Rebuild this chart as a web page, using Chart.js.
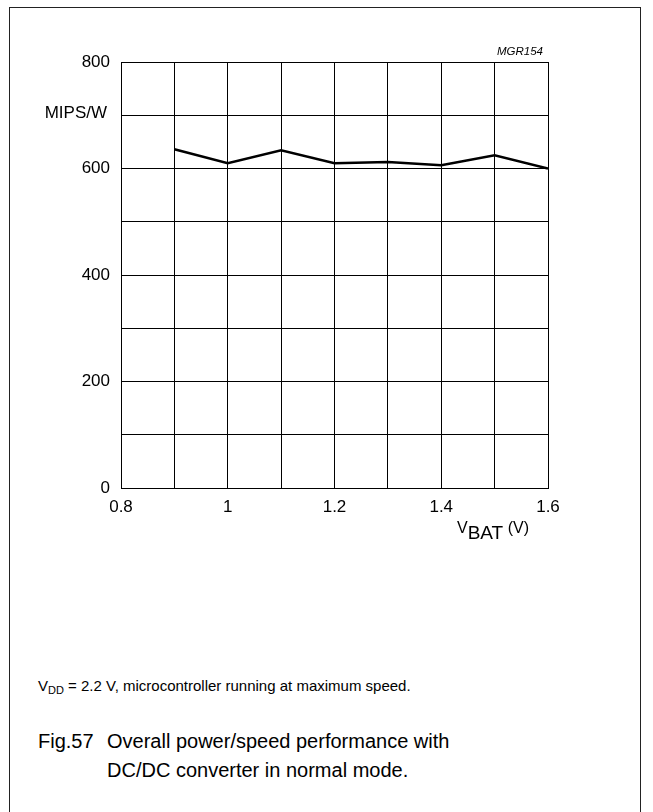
<!DOCTYPE html>
<html>
<head>
<meta charset="utf-8">
<script src="https://cdn.jsdelivr.net/npm/chart.js@4/dist/chart.umd.min.js"></script>
<style>
  body { margin: 0; background: #fff; font-family: "Liberation Sans", Arial, sans-serif; color: #000; }
  #frame { position: absolute; left: 9px; top: 7px; width: 630px; height: 820px; border: 1.5px solid #222; }
  #wrap { position: absolute; left: 0; top: 0; width: 653px; height: 560px; }
  .t { position: absolute; white-space: nowrap; }
</style>
</head>
<body>
<div id="frame"></div>
<div id="wrap"><canvas id="c"></canvas></div>
<div class="t" style="left:497px; top:45px; font-size:11.5px; font-style:italic;">MGR154</div>
<div class="t" style="right:546px; top:103px; font-size:17px;">MIPS/W</div>
<div class="t" style="left:457px; top:516px; font-size:16px;">V<span style="font-size:19px; position:relative; top:6px;">BAT</span> (V)</div>
<div class="t" style="left:38px; top:677px; font-size:15px;">V<span style="font-size:11px; position:relative; top:3px;">DD</span> = 2.2 V, microcontroller running at maximum speed.</div>
<div class="t" style="left:38px; top:727px; font-size:20px; line-height:29px;">Fig.57</div>
<div class="t" style="left:107px; top:727px; font-size:20px; line-height:29px;">Overall power/speed performance with<br>DC/DC converter in normal mode.</div>
<script>
var vbat = [0.9, 1.0, 1.1, 1.2, 1.3, 1.4, 1.5, 1.6]
var mipsPerW = [636, 610, 634, 610, 612, 606, 625, 600]

var pts = []
for (var i in vbat) {
  pts.push({x: vbat[i], y: mipsPerW[i]})
}

var tickFont = {family: '"Liberation Sans", Arial, sans-serif', size: 17}

var chart = new Chart(document.getElementById('c').getContext('2d'), {
  type: 'line',
  data: {
    datasets: [{
      data: pts,
      borderColor: '#000',
      borderWidth: 2.5,
      pointRadius: 0,
      tension: 0,
      fill: false
    }]
  },
  options: {
    responsive: true,
    maintainAspectRatio: false,
    animation: false,
    layout: {padding: {top: 62, right: 105, bottom: 32, left: 0}},
    plugins: {legend: {display: false}, tooltip: {enabled: false}},
    scales: {
      x: {
        type: 'linear',
        min: 0.8,
        max: 1.6,
        ticks: {
          stepSize: 0.1,
          color: '#000',
          font: tickFont,
          padding: 9,
          maxRotation: 0,
          autoSkip: false,
          callback: function(v) {
            var n = Math.round(v * 10)
            return n % 2 === 0 ? String(n / 10) : ''
          }
        },
        grid: {color: '#000', lineWidth: 1, drawTicks: false},
        border: {color: '#000', width: 1},
        afterFit: function(s) { s.height = 40 }
      },
      y: {
        min: 0,
        max: 800,
        ticks: {
          stepSize: 100,
          color: '#000',
          font: tickFont,
          padding: 11,
          callback: function(v) { return v % 200 === 0 ? String(v) : '' }
        },
        grid: {color: '#000', lineWidth: 1, drawTicks: false},
        border: {color: '#000', width: 1},
        afterFit: function(s) { s.width = 121 }
      }
    }
  }
})
</script>
</body>
</html>
